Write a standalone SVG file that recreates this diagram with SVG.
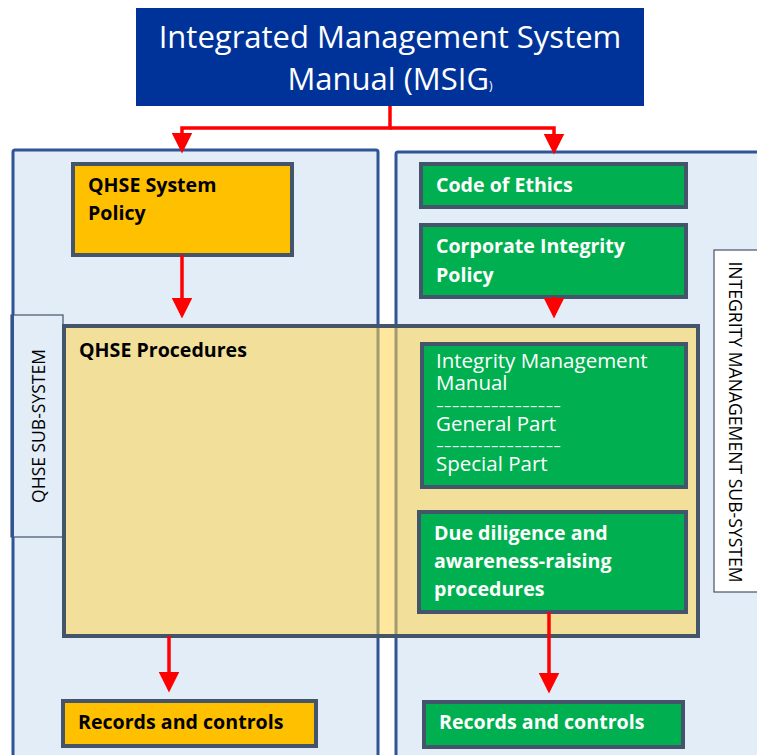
<svg xmlns="http://www.w3.org/2000/svg" width="757" height="755" viewBox="0 0 757 755">
<defs>
<style>
.panel{fill:#E2EDF7;stroke:#2F5597;stroke-width:3}
.node{stroke:#44546A;stroke-width:4}
.y{fill:#FFC000}
.g{fill:#00B050}
.t{font-family:"Open Sans","Noto Sans",sans-serif;font-size:19.6px}
.r{font-size:20.5px}
.d{font-size:14px}
.b{font-weight:bold}
.wt{fill:#FFFFFF}
.bk{fill:#000000}
.lbl{font-family:"Open Sans","Noto Sans",sans-serif;font-size:17.5px;fill:#000}
.conn{stroke:#FF0000;stroke-width:3.5;fill:none}
</style>
<marker id="ah" markerWidth="6" markerHeight="6" refX="5" refY="3" orient="auto" markerUnits="strokeWidth" viewBox="0 0 6 6">
<path d="M0,0 L6,3 L0,6 z" fill="#FF0000"/>
</marker>
</defs>
<rect width="757" height="755" fill="#FFFFFF"/>

<g id="panel-left"><rect class="panel" x="13" y="150" width="365" height="620" rx="2"/></g>
<g id="panel-right"><rect class="panel" x="396" y="152" width="380" height="620" rx="2"/></g>

<g id="label-qhse">
<rect x="11" y="315" width="52" height="222" fill="#E2EDF7" stroke="#44546A" stroke-width="1.2"/>
<line x1="12.5" y1="315" x2="12.5" y2="537" stroke="#2F5597" stroke-width="3"/>
<text class="lbl" transform="translate(45,426) rotate(-90)" text-anchor="middle">QHSE SUB-SYSTEM</text>
</g>

<g id="label-integrity">
<rect x="714" y="250" width="50" height="342" fill="#FFFFFF" stroke="#44546A" stroke-width="1.2"/>
<text class="lbl" transform="translate(729,422) rotate(90)" text-anchor="middle" style="font-size:17.6px">INTEGRITY MANAGEMENT SUB-SYSTEM</text>
</g>

<g id="title">
<rect x="136" y="8" width="508" height="98" fill="#003399"/>
<text x="390" y="48" text-anchor="middle" font-family="Open Sans, Noto Sans, sans-serif" font-size="31" fill="#FFFFFF">Integrated Management System</text>
<text x="390" y="90" text-anchor="middle" font-family="Open Sans, Noto Sans, sans-serif" font-size="31" fill="#FFFFFF">Manual (MSIG<tspan font-size="12">)</tspan></text>
</g>

<g id="qhse-policy">
<rect class="node y" x="73" y="164" width="219" height="91"/>
<text class="t b bk" x="88" y="192">QHSE System</text>
<text class="t b bk" x="88" y="220">Policy</text>
</g>

<g id="code-ethics">
<rect class="node g" x="421" y="164" width="265" height="43"/>
<text class="t b wt" x="436" y="192">Code of Ethics</text>
</g>

<g id="corp-policy">
<rect class="node g" x="421" y="225" width="265" height="72"/>
<text class="t b wt" x="436" y="253">Corporate Integrity</text>
<text class="t b wt" x="436" y="282">Policy</text>
</g>

<g id="qhse-procedures">
<rect x="64" y="326" width="634" height="310" fill="#FFD54F" fill-opacity="0.55" stroke="#44546A" stroke-width="4"/>
<text class="t b bk" x="79" y="357">QHSE Procedures</text>
</g>

<g id="integrity-manual">
<rect class="node g" x="422" y="344" width="264" height="143"/>
<text class="t r wt" x="436" y="368">Integrity Management</text>
<text class="t r wt" x="436" y="390">Manual</text>
<text class="t d wt" x="436" y="411" textLength="125" lengthAdjust="spacingAndGlyphs">----------------</text>
<text class="t r wt" x="436" y="431">General Part</text>
<text class="t d wt" x="436" y="451" textLength="125" lengthAdjust="spacingAndGlyphs">----------------</text>
<text class="t r wt" x="436" y="471">Special Part</text>
</g>

<g id="due-diligence">
<rect class="node g" x="419" y="512" width="267" height="100"/>
<text class="t b wt" x="434" y="540">Due diligence and</text>
<text class="t b wt" x="434" y="568">awareness-raising</text>
<text class="t b wt" x="434" y="596">procedures</text>
</g>

<g id="records-left">
<rect class="node y" x="63" y="701" width="253" height="45"/>
<text class="t b bk" x="78" y="729">Records and controls</text>
</g>

<g id="records-right">
<rect class="node g" x="424" y="702" width="259" height="45"/>
<text class="t b wt" x="439" y="729">Records and controls</text>
</g>

<g id="connectors">
<path class="conn" d="M390,106 V128 H182 V150" marker-end="url(#ah)"/>
<path class="conn" d="M390,128 H554 V151" marker-end="url(#ah)"/>
<path class="conn" d="M182,255 V315" marker-end="url(#ah)"/>
<path class="conn" d="M554,297 V315" marker-end="url(#ah)"/>
<path class="conn" d="M169,636 V689" marker-end="url(#ah)"/>
<path class="conn" d="M549,612 V690" marker-end="url(#ah)"/>
</g>
</svg>
